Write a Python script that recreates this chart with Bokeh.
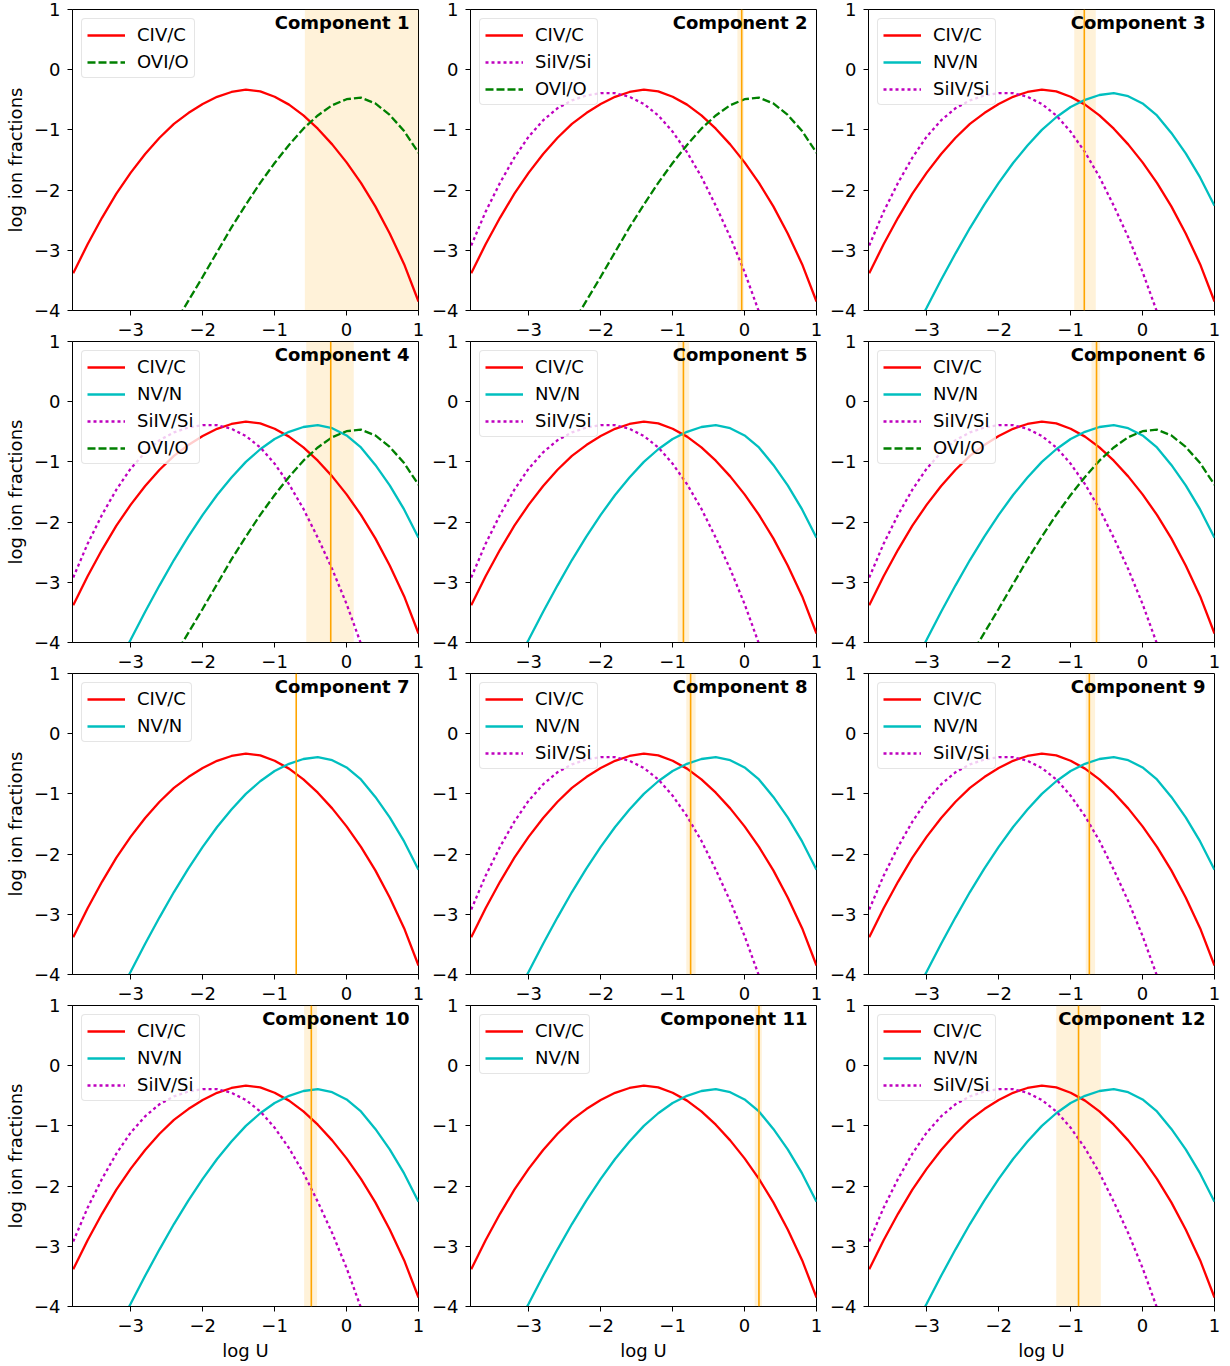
from bokeh.plotting import figure
from bokeh.models import (Range1d, FixedTicker, Legend, LegendItem, BoxAnnotation,
                          Span, Label)
from bokeh.layouts import row, column
from bokeh.embed import file_html
from bokeh.resources import INLINE

# ---------------- data ----------------
log_u = [-3.8, -3.6, -3.4, -3.2, -3.0, -2.8, -2.6, -2.4, -2.2, -2.0, -1.8, -1.6,
         -1.4, -1.2, -1.0, -0.8, -0.6, -0.4, -0.2, 0.0, 0.2, 0.4, 0.6, 0.8, 1.0]
civ_c = [-3.38, -2.90, -2.46, -2.06, -1.71, -1.40, -1.13, -0.90, -0.72, -0.57, -0.45, -0.37,
         -0.33, -0.36, -0.45, -0.58, -0.76, -0.98, -1.24, -1.54, -1.88, -2.27, -2.72, -3.23, -3.85]
nv_n = [-5.90, -5.38, -4.88, -4.40, -3.95, -3.49, -3.05, -2.63, -2.24, -1.88, -1.55, -1.26,
        -1.00, -0.79, -0.62, -0.50, -0.42, -0.39, -0.44, -0.56, -0.76, -1.05, -1.39, -1.79, -2.26]
siiv_si = [-2.92, -2.36, -1.88, -1.46, -1.11, -0.84, -0.64, -0.51, -0.43, -0.39, -0.39, -0.45,
           -0.57, -0.76, -1.03, -1.37, -1.78, -2.26, -2.78, -3.36, -4.02, -4.75, -5.55, -6.40, -7.30]
ovi_o = [-7.30, -6.80, -6.30, -5.85, -5.40, -4.97, -4.60, -4.24, -3.84, -3.44, -3.03, -2.62,
         -2.24, -1.88, -1.55, -1.25, -0.98, -0.76, -0.59, -0.49, -0.465, -0.56, -0.75, -1.02, -1.38]

components = ["Component %d" % i for i in range(1, 13)]
panel_ions = [
    ["CIV/C", "OVI/O"],
    ["CIV/C", "SiIV/Si", "OVI/O"],
    ["CIV/C", "NV/N", "SiIV/Si"],
    ["CIV/C", "NV/N", "SiIV/Si", "OVI/O"],
    ["CIV/C", "NV/N", "SiIV/Si"],
    ["CIV/C", "NV/N", "SiIV/Si", "OVI/O"],
    ["CIV/C", "NV/N"],
    ["CIV/C", "NV/N", "SiIV/Si"],
    ["CIV/C", "NV/N", "SiIV/Si"],
    ["CIV/C", "NV/N", "SiIV/Si"],
    ["CIV/C", "NV/N"],
    ["CIV/C", "NV/N", "SiIV/Si"],
]
best_logu = [None, -0.04, -0.81, -0.22, -0.85, -0.64, -0.70, -0.75, -0.74, -0.49, 0.20, -0.89]
band_lo = [-0.58, -0.10, -0.95, -0.56, -0.93, -0.71, None, -0.81, -0.79, -0.59, 0.14, -1.20]
band_hi = [1.0, -0.01, -0.65, 0.10, -0.77, -0.59, None, -0.68, -0.66, -0.41, 0.24, -0.58]

x_ticks = [-3, -2, -1, 0, 1]
y_ticks = [-4, -3, -2, -1, 0, 1]

ion_values = {"CIV/C": civ_c, "NV/N": nv_n, "SiIV/Si": siiv_si, "OVI/O": ovi_o}
ion_style = {"CIV/C": ("#ff0000", "solid"), "NV/N": ("#00bfbf", "solid"),
             "SiIV/Si": ("#bf00bf", "3 3"), "OVI/O": ("#008000", "8 3")}

FONT = "DejaVu Sans"
FS = "18px"


def minus(v):
    return ("\u2212%d" % -v) if v < 0 else "%d" % v


def make_panel(i):
    r, c = divmod(i, 3)
    left = 66 if c == 0 else 41
    right = 7 if c == 2 else 10
    bottom = 59 if r == 3 else 34
    p = figure(frame_width=346, frame_height=301,
               x_range=Range1d(-3.81, 1.0), y_range=Range1d(-4, 1),
               output_backend="svg", toolbar_location=None,
               min_border_left=left, min_border_right=right,
               min_border_top=9, min_border_bottom=bottom)
    p.border_fill_alpha = 0
    p.background_fill_color = "white"
    p.outline_line_color = "black"
    p.outline_line_alpha = 1
    p.outline_line_width = 1
    p.grid.visible = False

    for ax, ticks in ((p.xaxis, x_ticks), (p.yaxis, y_ticks)):
        ax.ticker = FixedTicker(ticks=ticks)
        ax.major_label_overrides = {t: minus(t) for t in ticks}
        ax.minor_tick_line_color = None
        ax.major_tick_out = 5
        ax.major_tick_in = 0
        ax.axis_line_color = "black"
        ax.major_tick_line_color = "black"
        ax.major_label_text_font = FONT
        ax.major_label_text_font_size = FS
        ax.major_label_text_color = "black"
        ax.axis_label_text_font = FONT
        ax.axis_label_text_font_size = FS
        ax.axis_label_text_font_style = "normal"
        ax.axis_label_text_color = "black"
    p.xaxis.major_label_standoff = 7
    p.yaxis.major_label_standoff = 7
    if c == 0:
        p.yaxis.axis_label = "log ion fractions"
        p.yaxis.axis_label_standoff = 5
    if r == 3:
        p.xaxis.axis_label = "log U"
        p.xaxis.axis_label_standoff = 5

    if band_lo[i] is not None:
        p.add_layout(BoxAnnotation(left=band_lo[i], right=band_hi[i],
                                   fill_color="#ffa500", fill_alpha=0.15,
                                   line_alpha=0, level="underlay"))

    items = []
    for ion in ["CIV/C", "NV/N", "SiIV/Si", "OVI/O"]:
        if ion not in panel_ions[i]:
            continue
        color, dash = ion_style[ion]
        rr = p.line(log_u, ion_values[ion], line_color=color, line_width=2.3,
                    line_dash=dash, line_cap="butt")
        items.append(LegendItem(label=ion, renderers=[rr]))

    if best_logu[i] is not None:
        p.add_layout(Span(location=best_logu[i], dimension="height",
                          line_color="#ffa500", line_width=1.6))

    leg = Legend(items=items, location="top_left")
    leg.margin = 9
    leg.padding = 5
    leg.spacing = 6
    leg.glyph_width = 38
    leg.glyph_height = 20
    leg.label_height = 20
    leg.label_standoff = 12
    leg.label_text_font = FONT
    leg.label_text_font_size = FS
    leg.label_text_color = "black"
    leg.border_line_color = "#cccccc"
    leg.border_line_width = 1
    leg.background_fill_color = "white"
    leg.background_fill_alpha = 0.8
    if "border_radius" in Legend.properties():
        leg.border_radius = 4
    p.add_layout(leg)

    p.add_layout(Label(x=1.0, y=1.0, text=components[i], text_align="right",
                       text_baseline="top", x_offset=-9, y_offset=-2,
                       text_font=FONT, text_font_size=FS,
                       text_font_style="bold", text_color="black"))
    return p


panels = [make_panel(i) for i in range(12)]
rows = []
for r in range(4):
    rw = row(*panels[3 * r:3 * r + 3])
    if r == 0:
        rw.margin = (0, 0, 0, 1)
    elif r == 3:
        rw.margin = (-12, 0, -14, 1)
    else:
        rw.margin = (-12, 0, 0, 1)
    rows.append(rw)
layout = column(*rows)

open("out.html", "w").write(file_html(layout, INLINE))
